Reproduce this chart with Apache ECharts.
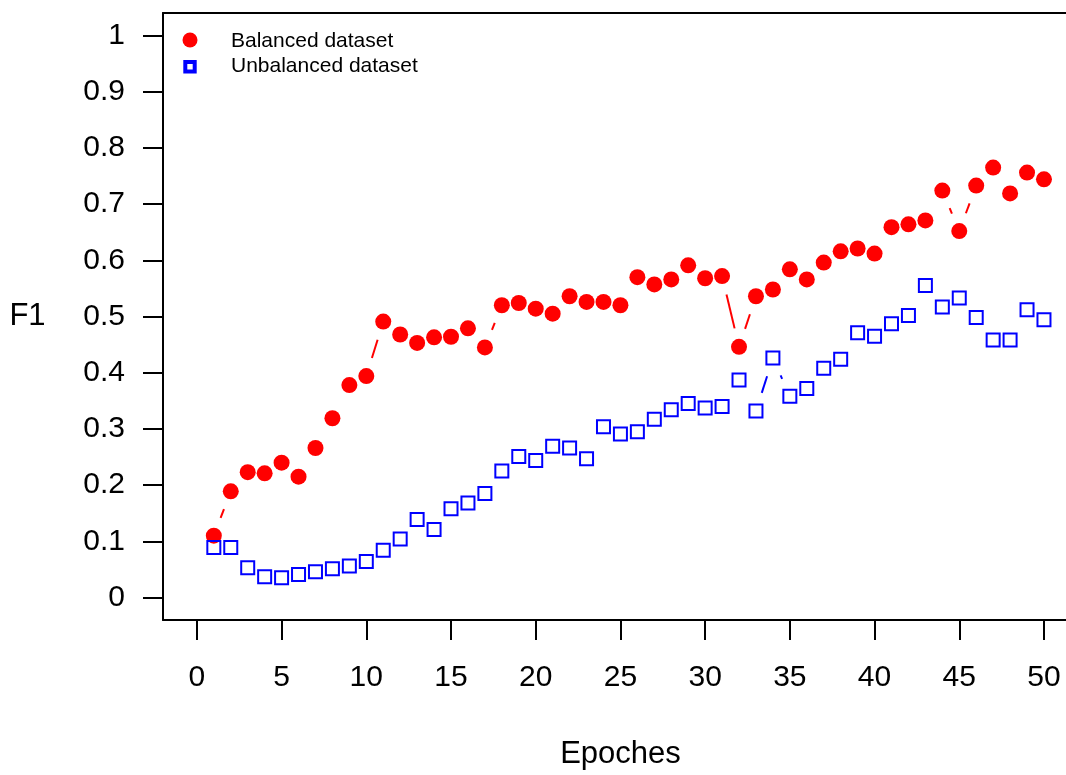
<!DOCTYPE html>
<html>
<head>
<meta charset="utf-8">
<script src="https://cdn.jsdelivr.net/npm/echarts@6/dist/echarts.min.js"></script>
<style>
html,body{margin:0;padding:0;background:#fff;}
#chart{width:1066px;height:775px;}
</style>
</head>
<body>
<div id="chart"></div>
<script>
const epochs = [1,2,3,4,5,6,7,8,9,10,11,12,13,14,15,16,17,18,19,20,21,22,23,24,25,26,27,28,29,30,31,32,33,34,35,36,37,38,39,40,41,42,43,44,45,46,47,48,49,50];
const balanced = [0.110,0.189,0.223,0.221,0.240,0.215,0.266,0.319,0.378,0.394,
  0.491,0.468,0.453,0.463,0.464,0.479,0.445,0.520,0.524,0.514,
  0.505,0.536,0.526,0.526,0.520,0.570,0.557,0.566,0.591,0.568,
  0.572,0.446,0.536,0.548,0.584,0.566,0.596,0.616,0.621,0.612,
  0.659,0.664,0.671,0.724,0.652,0.733,0.765,0.719,0.756,0.744];
const unbalanced = [0.089,0.089,0.053,0.037,0.035,0.041,0.046,0.051,0.056,0.064,
  0.084,0.104,0.139,0.121,0.158,0.168,0.185,0.225,0.251,0.244,
  0.269,0.266,0.247,0.304,0.291,0.295,0.317,0.334,0.345,0.337,
  0.340,0.387,0.332,0.426,0.358,0.372,0.408,0.424,0.471,0.465,
  0.487,0.502,0.555,0.517,0.533,0.498,0.458,0.458,0.512,0.494];
const xTicks = [0,5,10,15,20,25,30,35,40,45,50];
const yTicks = [0,0.1,0.2,0.3,0.4,0.5,0.6,0.7,0.8,0.9,1];
const seriesNames = ['Balanced dataset','Unbalanced dataset'];
const xTitle = 'Epoches';
const yTitle = 'F1';

const FONT = '"Liberation Sans", Arial, Helvetica, sans-serif';
const GAP = 19;

function pts(ys){ return epochs.map((x,i)=>[x, ys[i]]); }
function segs(ys){
  const out = [];
  for (let i = 0; i < epochs.length - 1; i++) out.push([epochs[i], ys[i], epochs[i+1], ys[i+1]]);
  return out;
}
function gapLine(color){
  return function(params, api){
    const p1 = api.coord([api.value(0), api.value(1)]);
    const p2 = api.coord([api.value(2), api.value(3)]);
    const dx = p2[0]-p1[0], dy = p2[1]-p1[1];
    const d = Math.hypot(dx, dy);
    if (d <= 2*GAP + 1) return {type:'group', children:[]};
    const ux = dx/d, uy = dy/d;
    return {type:'line', shape:{x1:p1[0]+ux*GAP, y1:p1[1]+uy*GAP, x2:p2[0]-ux*GAP, y2:p2[1]-uy*GAP},
      style:{stroke:color, lineWidth:2}};
  };
}

const axisLineStyle = {color:'#000', width:2};
const chart = echarts.init(document.getElementById('chart'), null, {renderer:'canvas'});
chart.setOption({
  animation:false,
  backgroundColor:'#fff',
  textStyle:{fontFamily:FONT},
  grid:{left:163, top:13, right:0, bottom:155, show:false, containLabel:false},
  xAxis:[{type:'value', min:-2, max:51.3, position:'bottom',
    name:xTitle, nameLocation:'middle', nameGap:134.5,
    nameTextStyle:{fontSize:31, color:'#000', fontFamily:FONT, verticalAlign:'middle', align:'center', padding:[0,0,0,12]},
    axisLine:{show:true, onZero:false, lineStyle:axisLineStyle},
    axisTick:{show:true, length:20, customValues:xTicks, lineStyle:{color:'#000', width:2}},
    axisLabel:{customValues:xTicks, margin:58, fontSize:30, color:'#000', fontFamily:FONT, verticalAlign:'middle'},
    splitLine:{show:false}},
   {type:'value', min:-2, max:51.3, position:'top',
    axisLine:{show:true, onZero:false, lineStyle:axisLineStyle},
    axisTick:{show:false}, axisLabel:{show:false}, splitLine:{show:false}}],
  yAxis:{type:'value', min:-0.04, max:1.04, position:'left',
    name:yTitle, nameLocation:'middle', nameGap:135.5, nameRotate:0,
    nameTextStyle:{fontSize:31, color:'#000', fontFamily:FONT, verticalAlign:'middle', align:'center'},
    axisLine:{show:true, onZero:false, lineStyle:axisLineStyle},
    axisTick:{show:true, length:20, customValues:yTicks, lineStyle:{color:'#000', width:2}},
    axisLabel:{customValues:yTicks, margin:38, fontSize:30, color:'#000', fontFamily:FONT,
      formatter:function(v){ return String(+(+v).toFixed(2)); }},
    splitLine:{show:false}},
  graphic:[
    {type:'circle', left:182.5, top:32.5, shape:{r:7.5}, style:{fill:'#ff0000'}, z:100},
    {type:'rect', shape:{x:185.3, y:62, width:9.4, height:9.4}, style:{fill:'none', stroke:'#0000ff', lineWidth:4}, z:100},
    {type:'text', x:231, y:41, style:{text:seriesNames[0], font:'21px '+FONT, fill:'#000', verticalAlign:'middle', align:'left'}, z:100},
    {type:'text', x:231, y:66, style:{text:seriesNames[1], font:'21px '+FONT, fill:'#000', verticalAlign:'middle', align:'left'}, z:100}
  ],
  series:[
    {type:'custom', name:'balanced-lines', renderItem:gapLine('#ff0000'), data:segs(balanced), encode:{x:[0,2], y:[1,3]}, silent:true, z:1},
    {type:'custom', name:'unbalanced-lines', renderItem:gapLine('#0000ff'), data:segs(unbalanced), encode:{x:[0,2], y:[1,3]}, silent:true, z:1},
    {type:'scatter', name:seriesNames[0], data:pts(balanced), symbol:'circle', symbolSize:16,
      itemStyle:{color:'#ff0000', opacity:1}, z:2},
    {type:'scatter', name:seriesNames[1], data:pts(unbalanced), symbol:'rect', symbolSize:13,
      itemStyle:{color:'rgba(0,0,0,0)', borderColor:'#0000ff', borderWidth:2, opacity:1}, z:3}
  ]
});
</script>
</body>
</html>
